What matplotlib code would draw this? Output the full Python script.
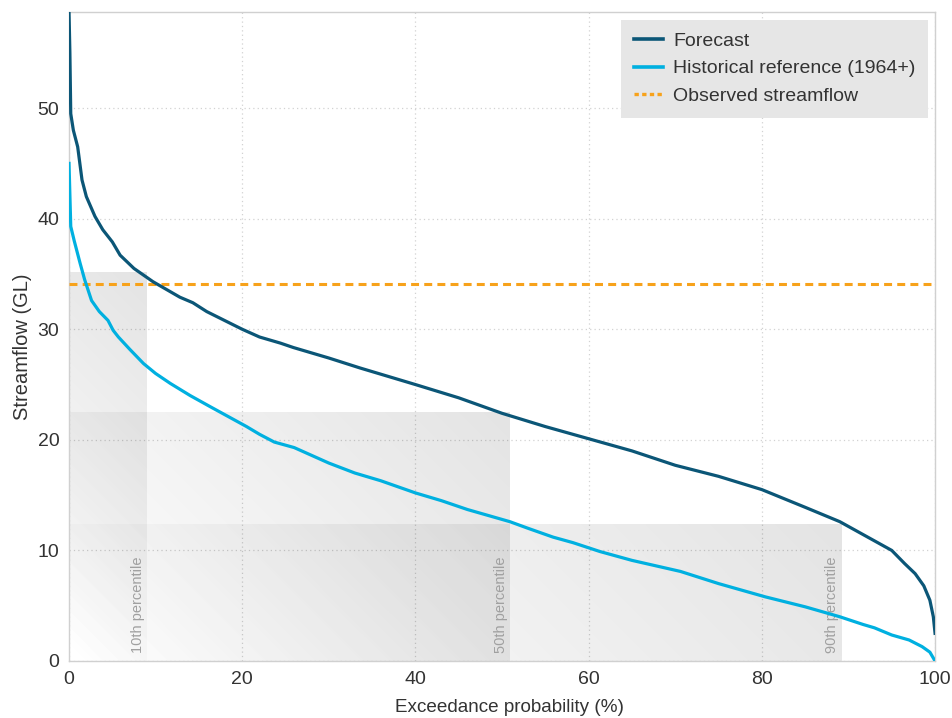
import numpy as np
import matplotlib
matplotlib.use('Agg')
import matplotlib.pyplot as plt
from matplotlib.lines import Line2D

# Exceedance curves (probability %, streamflow GL)
forecast_x = [0, 0.1, 0.2, 0.5, 1.0, 1.5, 2.0, 3.0, 3.9, 5.0, 5.9, 7.5, 9.7, 12.8, 14.3, 15.9, 20,
              22, 24.4, 25.9, 30, 33.6, 40, 45, 50, 55, 60, 65, 70, 75, 80, 85, 89, 92, 95, 96.5,
              97.7, 98.7, 99.4, 99.8, 100]
forecast_y = [58.7, 55, 49.5, 48, 46.5, 43.5, 42, 40.2, 39.0, 37.9, 36.7, 35.5, 34.3, 32.9, 32.4, 31.6, 30.0,
              29.3, 28.75, 28.35, 27.4, 26.5, 25.0, 23.8, 22.4, 21.2, 20.1, 19.0, 17.7, 16.7, 15.5, 13.9, 12.6,
              11.3, 10.0, 8.8, 7.9, 6.8, 5.5, 4.0, 2.5]
hist_x = [0, 0.2, 0.6, 1.27, 1.8, 2.6, 3.5, 4.5, 5.1, 5.7, 7.0, 8.6, 10, 11.7, 14, 16.3, 20.5,
          22, 23.7, 26, 30, 33, 36, 40, 43, 46, 50.9, 53, 55.9, 58.2, 61.3, 65, 70.6, 75, 80.4,
          85, 89, 91.7, 93, 95, 97, 98.5, 99.4, 100]
hist_y = [45.0, 39.3, 38.0, 36.0, 34.5, 32.6, 31.6, 30.8, 29.9, 29.3, 28.2, 26.9, 26.0, 25.1, 24.0, 23.0, 21.2,
          20.5, 19.8, 19.3, 17.9, 17.0, 16.3, 15.2, 14.5, 13.7, 12.6, 12.0, 11.2, 10.7, 9.9, 9.1, 8.1, 7.0, 5.8,
          4.9, 4.0, 3.3, 3.0, 2.35, 1.9, 1.3, 0.8, 0.0]
observed_flow = 34.1

# percentile boxes: (label, exceedance %, streamflow GL)
pct_labels = ['10th percentile', '50th percentile', '90th percentile']
pct_x = [9.0, 50.9, 89.2]
pct_y = [35.1, 22.5, 12.3]

c_fc = '#0b5677'
c_hist = '#00b0e0'
c_obs = '#f7a21b'
txt = '#333333'

plt.rcParams['font.family'] = ['Liberation Sans', 'DejaVu Sans']

fig = plt.figure(figsize=(9.52, 7.18), dpi=100)
ax = fig.add_axes([0.0725, 0.0794, 0.9097, 0.904])
ax.set_xlim(0, 100)
ax.set_ylim(0, 58.7)

# grey boxes with a 45 degree gradient, clear at the bottom-left corner
for lab, px, py in zip(pct_labels, pct_x, pct_y):
    (x0, y0), (x1, y1) = ax.transData.transform([(0, 0), (px, py)])
    w, h = x1 - x0, y1 - y0
    nx, ny = 300, 200
    u = np.linspace(0, 1, nx)[None, :]
    v = np.linspace(1, 0, ny)[:, None]
    t = (u * w + v * h) / (w + h)
    img = np.zeros((ny, nx, 4))
    img[..., 3] = 0.11 * t
    ax.imshow(img, extent=(0, px, 0, py), aspect='auto', zorder=1, interpolation='bilinear')
    ax.text(px - 0.25, 0.7, lab, rotation=90, ha='right', va='bottom',
            fontsize=10.5, color='#a0a0a0', zorder=2)

ax.set_xlim(0, 100)
ax.set_ylim(0, 58.7)

ax.plot(forecast_x, forecast_y, color=c_fc, lw=2.3, zorder=4)
ax.plot(hist_x, hist_y, color=c_hist, lw=2.3, zorder=4)
ax.axhline(observed_flow, color=c_obs, lw=2.2, ls=(0, (2.6, 1.7)), zorder=3)

ax.set_xticks(range(0, 101, 20))
ax.set_yticks(range(0, 51, 10))
ax.grid(True, color='#d2d2d2', ls=(0, (1, 2.5)), lw=0.9, zorder=0)
ax.set_axisbelow(True)
ax.tick_params(length=0, labelsize=14, colors=txt, pad=7)
for s in ax.spines.values():
    s.set_color('#d0d0d0')
    s.set_linewidth(1)

ax.set_xlabel('Exceedance probability (%)', fontsize=13.6, color=txt)
ax.xaxis.set_label_coords(0.508, -0.059)
ax.set_ylabel('Streamflow (GL)', fontsize=14.5, color=txt)
ax.yaxis.set_label_coords(-0.043, 0.484)

handles = [Line2D([0], [0], color=c_fc, lw=2.6),
           Line2D([0], [0], color=c_hist, lw=2.6),
           Line2D([0], [0], color=c_obs, lw=2.4, ls=(0, (1.3, 1.0)))]
leg = ax.legend(handles, ['Forecast', 'Historical reference (1964+)', 'Observed streamflow'],
                loc='upper right', bbox_to_anchor=(0.992, 0.988), fontsize=14,
                frameon=True, fancybox=False, handlelength=1.5, borderpad=0.66,
                labelspacing=0.5, handletextpad=0.5, borderaxespad=0)
leg.get_frame().set_facecolor('#e6e6e6')
leg.get_frame().set_edgecolor('none')
leg.get_frame().set_alpha(1)
for t in leg.get_texts():
    t.set_color(txt)

fig.savefig('out.png', dpi=100)
